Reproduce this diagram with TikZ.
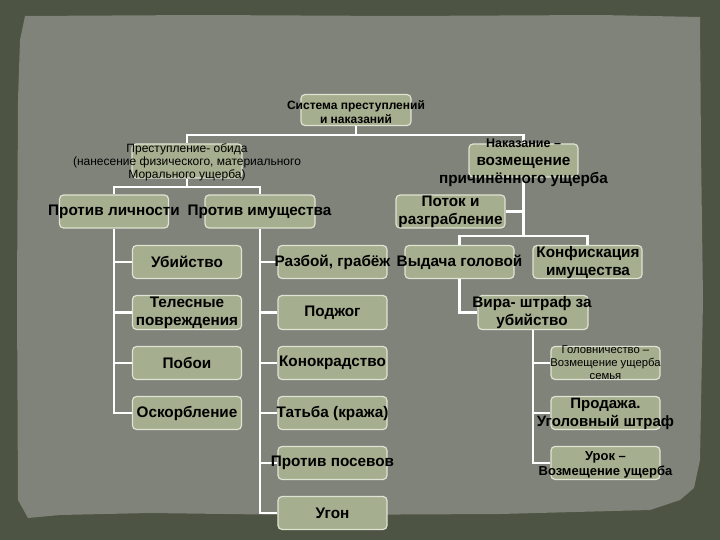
\documentclass[tikz,border=0pt]{standalone}
\usepackage{fontspec}
\setmainfont{Liberation Sans}
\definecolor{frame}{HTML}{4D5443}
\definecolor{paper}{HTML}{80837A}
\definecolor{sage}{HTML}{A5AE8E}
\definecolor{rim}{HTML}{DFE3D3}
\tikzset{
  box/.style={draw=rim, fill=sage, rounded corners=4pt, line width=1.2pt, minimum width=109pt, minimum height=33pt, inner sep=0pt},
  big/.style={font=\bfseries\fontsize{15.3}{18}\selectfont, align=center, inner sep=0pt},
  mid/.style={font=\bfseries\fontsize{12}{14}\selectfont, align=center, inner sep=0pt},
  thin/.style={font=\fontsize{12}{13}\selectfont, align=center, inner sep=0pt},
  link/.style={draw=white, line width=2.2pt}
}
\begin{document}
\begin{tikzpicture}[x=1pt,y=-1pt]
    \useasboundingbox (0,0) rectangle (720,540);
    \fill[frame] (0,0) rectangle (720,540);
    \fill[paper] (25,16) -- (200,15) -- (400,16) -- (600,15) -- (700,17) -- (701,150) -- (703,300)
        -- (700,460) -- (694,488) -- (680,500) -- (650,510) -- (500,514) -- (300,515) -- (150,513)
        -- (60,515) -- (28,518) -- (18,500) -- (17,300) -- (18,100) -- (20,40) -- cycle;

    % boxes
    \node[box, minimum width=110pt, minimum height=31pt] (sys) at (356,110) {};
    \node[box, minimum width=110pt, minimum height=34pt] (obida) at (187,161) {};
    \node[box] (lich) at (114,211.5) {};
    \node[box, minimum width=110pt] (imu) at (260,211.5) {};
    \node[box] (ub) at (187,262) {};
    \node[box, minimum height=34pt] (tel) at (187,312.5) {};
    \node[box] (pob) at (187,363) {};
    \node[box] (osk) at (187,413) {};
    \node[box] (raz) at (332.5,262) {};
    \node[box, minimum height=34pt] (podj) at (332.5,312.5) {};
    \node[box] (konok) at (332.5,363) {};
    \node[box] (tat) at (332.5,413) {};
    \node[box] (pos) at (332.5,463) {};
    \node[box] (ugon) at (332.5,513) {};
    \node[box] (nak) at (523.5,160.5) {};
    \node[box] (potok) at (450.5,211.5) {};
    \node[box] (vyd) at (459.5,262) {};
    \node[box] (konf) at (587.5,262) {};
    \node[box, minimum width=110pt, minimum height=34pt] (vira) at (533,312.5) {};
    \node[box] (gol) at (605.5,363) {};
    \node[box] (prod) at (605.5,413) {};
    \node[box] (urok) at (605.5,463) {};

    % connectors
    \coordinate (r0) at (356,135);
    \coordinate (r1) at (187,187);
    \coordinate (r2) at (523.5,236);
    \draw[link] (sys.south) -- (r0);
    \draw[link] (obida.north) |- (r0) -| (nak.north);
    \draw[link] (obida.south) -- (r1);
    \draw[link] (lich.north) |- (r1) -| (imu.north);
    \draw[link] (lich.south) |- (osk.west);
    \foreach \n in {ub,tel,pob}
        \draw[link] (lich.south |- \n.west) -- (\n.west);
    \draw[link] (imu.south) |- (ugon.west);
    \foreach \n in {raz,podj,konok,tat,pos}
        \draw[link] (imu.south |- \n.west) -- (\n.west);
    \draw[link] (nak.south) -- (r2);
    \draw[link] (potok.east) -- (potok.east -| r2);
    \draw[link] (vyd.north) |- (r2) -| (konf.north);
    \draw[link] (vyd.south) |- (vira.west);
    \draw[link] (vira.south) |- (urok.west);
    \foreach \n in {gol,prod}
        \draw[link] (vira.south |- \n.west) -- (\n.west);

    % labels
    \node[mid] (sys-l) at (356,112) {Система преступлений\\и наказаний};
    \node[thin] (obida-l) at (187,162) {Преступление- обида\\(нанесение физического, материального\\Морального ущерба)};
    \node[big] (lich-l) at (114,212) {Против личности};
    \node[big] (imu-l) at (259.5,212) {Против имущества};
    \node[big] (ub-l) at (ub) {Убийство};
    \node[big] (tel-l) at (187,313) {Телесные\\повреждения};
    \node[big] (pob-l) at (pob) {Побои};
    \node[big] (osk-l) at (osk) {Оскорбление};
    \node[big] (raz-l) at (raz) {Разбой, грабёж};
    \node[big] (podj-l) at (podj) {Поджог};
    \node[big] (konok-l) at (konok) {Конокрадство};
    \node[big] (tat-l) at (tat) {Татьба (кража)};
    \node[big] (pos-l) at (pos) {Против посевов};
    \node[big] (ugon-l) at (ugon) {Угон};
    \node[big] (nak-l) at (523.5,163) {{\fontsize{12.5}{14}\selectfont Наказание –}\\возмещение\\причинённого ущерба};
    \node[big] (potok-l) at (450.5,211.5) {Поток и\\разграбление};
    \node[big] (vyd-l) at (vyd) {Выдача головой};
    \node[big] (konf-l) at (588,263) {Конфискация\\имущества};
    \node[big] (vira-l) at (532,313) {Вира- штраф за\\убийство};
    \node[thin, font=\fontsize{11.3}{13}\selectfont] (gol-l) at (605.5,363) {Головничество –\\Возмещение ущерба\\семья};
    \node[big, font=\bfseries\fontsize{15}{18}\selectfont] (prod-l) at (605.5,414) {Продажа.\\Уголовный штраф};
    \node[big, font=\bfseries\fontsize{13}{15}\selectfont] (urok-l) at (605.5,464.5) {Урок –\\Возмещение ущерба};
\end{tikzpicture}
\end{document}
